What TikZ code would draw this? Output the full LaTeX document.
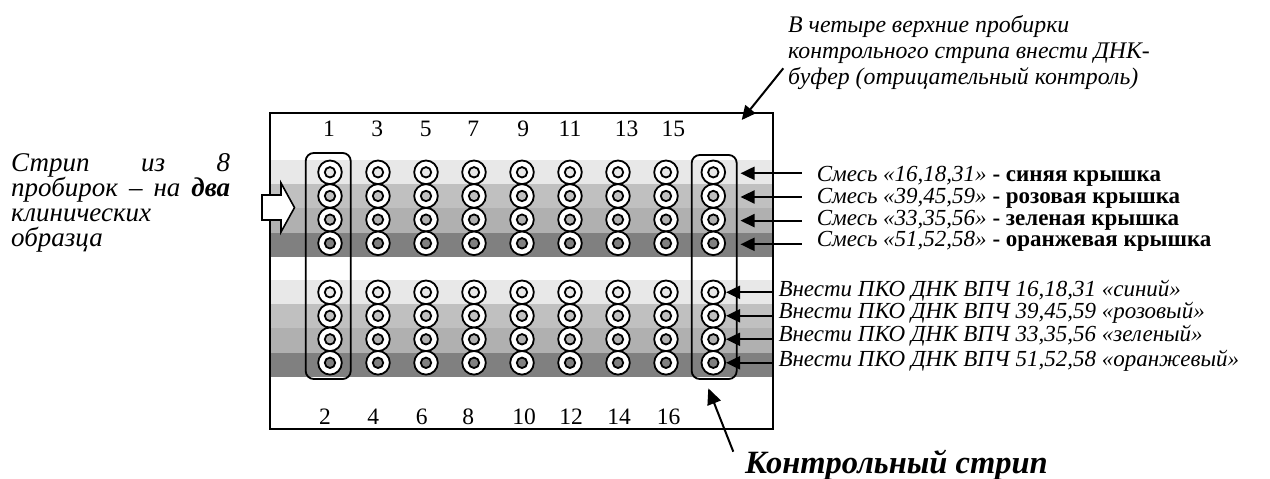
\documentclass[tikz,border=0pt]{standalone}
\usepackage{fontspec}
\setmainfont{Liberation Serif}
\usetikzlibrary{arrows.meta}
\definecolor{b1}{RGB}{232,232,232}
\definecolor{b2}{RGB}{192,192,192}
\definecolor{b3}{RGB}{176,176,176}
\definecolor{b4}{RGB}{128,128,128}
\begin{document}
\begin{tikzpicture}[x=1pt,y=-1pt,
  tube/.style={circle, draw, line width=1.8pt, fill=white, minimum size=23.6pt, inner sep=0pt},
  hole/.style={circle, draw, line width=1.8pt, minimum size=10.4pt, inner sep=0pt},
  stripbox/.style={draw, rounded corners=8pt, line width=1.8pt, inner sep=0pt},
  lbl/.style={anchor=base west, inner sep=0pt, font=\fontsize{23}{25}\selectfont\itshape},
  toplbl/.style={lbl, font=\fontsize{23.8}{26}\selectfont\itshape},
  mixlbl/.style={lbl, font=\fontsize{23}{25}\selectfont\itshape, text height=15pt, text depth=4pt},
  leftlbl/.style={lbl, font=\fontsize{27}{25}\selectfont\itshape, text height=17pt, text depth=5pt},
  num/.style={anchor=base, inner sep=0pt, font=\fontsize{23.5}{26}\selectfont},
  arr/.style={-{Triangle[length=14pt,width=13pt]}, line width=2pt},
  blockarrow/.style={draw, fill=white, line width=1.6pt, line join=miter}]
\useasboundingbox (0,0) rectangle (1270,479);
% bands
\foreach \k/\col in {0/b1,1/b2,2/b3,3/b4}{
  \fill[\col] (270,{160+24.2*\k}) rectangle (773,{160+24.2*(\k+1)});
  \fill[\col] (270,{280+24.2*\k}) rectangle (773,{280+24.2*(\k+1)});
}
% main box
\node[draw, line width=2pt, minimum width=503pt, minimum height=316pt, inner sep=0pt] (box) at (521.5,270.8) {};
% strip frames
\node[stripbox, minimum width=45pt, minimum height=226pt] (s1) at (328.2,266) {};
\node[stripbox, minimum width=45pt, minimum height=224pt] (cs) at (714.2,267) {};
% tubes
\foreach \k/\col in {0/b1,1/b2,2/b3,3/b4}{
  \foreach \c/\xx in {1/330,2/378,3/426,4/474,5/522,6/570,7/618,8/666,9/713.3}{
    \node[tube] (u\c-\k) at (\xx,{172.3+23.67*\k}) {};
    \node[hole, fill=\col] (uh\c-\k) at (u\c-\k) {};
    \node[tube] (l\c-\k) at (\xx,{292.3+23.5*\k}) {};
    \node[hole, fill=\col] (lh\c-\k) at (l\c-\k) {};
  }
}
% numbers
\foreach \n/\xx in {1/329,3/377.3,5/425.7,7/473.3,9/523.3,11/570,13/626.7,15/673.3}{
  \node[num] (nt\n) at (\xx,136) {\n};
}
\foreach \n/\xx in {2/325,4/373.3,6/421.7,8/468.3,10/524,12/571,14/619,16/668.7}{
  \node[num] (nb\n) at (\xx,424.5) {\n};
}
% left block arrow
\draw[blockarrow] (262,195) -- (281,195) -- (281,183) -- (294.5,207.6) -- (281,232) -- (281,220) -- (262,220) -- cycle;
% left text
\node[leftlbl] (lt1) at (11,171.7) {\hbox to 219pt{Стрип\hfill из\hfill 8}};
\node[leftlbl] (lt2) at (11,196.7) {\hbox to 219pt{пробирок\hfill –\hfill на\hfill\textbf{два}}};
\node[leftlbl] (lt3) at (11,221.7) {клинических};
\node[leftlbl] (lt4) at (11,246.7) {образца};
% top text
\node[toplbl] (tt1) at (788,32) {В четыре верхние пробирки};
\node[toplbl] (tt2) at (788,58.5) {контрольного стрипа внести ДНК-};
\node[toplbl] (tt3) at (788,84) {буфер (отрицательный контроль)};
\coordinate (ta) at (783.3,68.3);
\coordinate (tb) at (741.7,120);
\draw[arr] (ta) -- (tb);
% upper right labels
\node[mixlbl] (m0) at (816.7,181.8) {Смесь «16,18,31» \textbf{\upshape - синяя крышка}};
\node[mixlbl] (m1) at (816.7,203.5) {Смесь «39,45,59» \textbf{\upshape - розовая крышка}};
\node[mixlbl] (m2) at (816.7,225.2) {Смесь «33,35,56» \textbf{\upshape - зеленая крышка}};
\node[mixlbl] (m3) at (816.7,246.9) {Смесь «51,52,58» \textbf{\upshape - оранжевая крышка}};
\foreach \k in {0,1,2,3}{
  \coordinate (ms\k) at (801.7,{173.3+23.67*\k});
  \coordinate (me\k) at (740.5,{173.3+23.67*\k});
  \draw[arr] (ms\k) -- (me\k);
}
% lower right labels
\node[lbl] (p0) at (778.3,296) {Внести ПКО ДНК ВПЧ 16,18,31 «синий»};
\node[lbl] (p1) at (778.3,318.5) {Внести ПКО ДНК ВПЧ 39,45,59 «розовый»};
\node[lbl] (p2) at (778.3,341.7) {Внести ПКО ДНК ВПЧ 33,35,56 «зеленый»};
\node[lbl] (p3) at (778.3,366.7) {Внести ПКО ДНК ВПЧ 51,52,58 «оранжевый»};
\foreach \k in {0,1,2,3}{
  \coordinate (ps\k) at (772,{292.3+23.5*\k});
  \draw[arr] (ps\k) -- (l9-\k.east);
}
% control strip label
\node[anchor=base west, inner sep=0pt, font=\fontsize{32.5}{36}\selectfont\bfseries\itshape] (ctl) at (745,473.3) {Контрольный стрип};
\coordinate (ca) at (733.3,451.7);
\coordinate (cb) at (708.3,388.3);
\draw[arr, -{Triangle[length=16pt,width=14pt]}] (ca) -- (cb);
\end{tikzpicture}
\end{document}
